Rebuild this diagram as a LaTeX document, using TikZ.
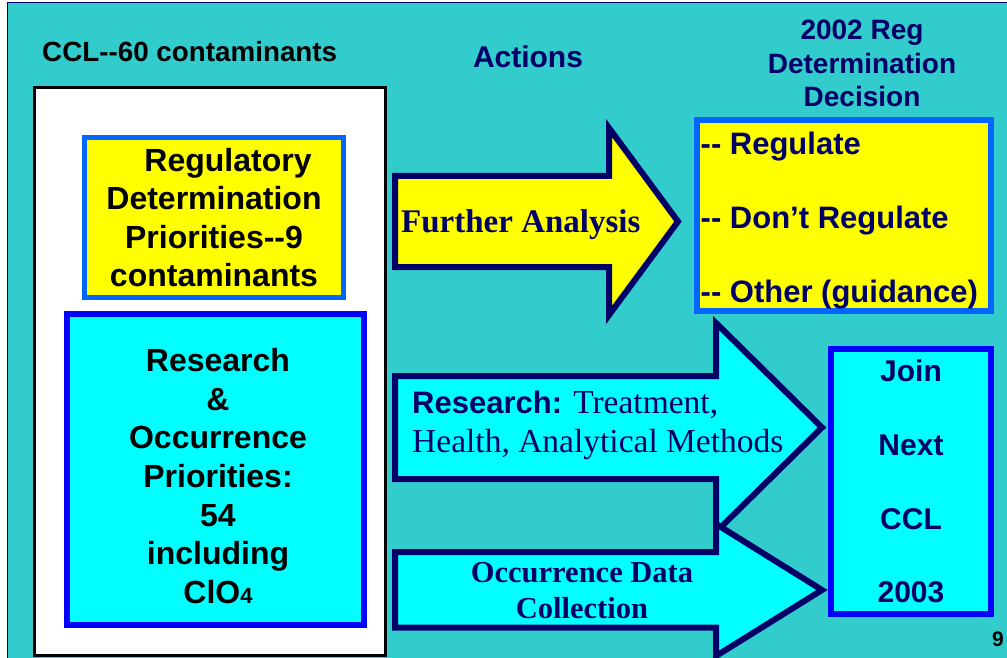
\documentclass[tikz,border=0pt]{standalone}
\usepackage{fontspec}
\setmainfont{Liberation Serif}[Ligatures=TeXOff]
\setsansfont{Liberation Sans}[Ligatures=TeXOff]
\usetikzlibrary{positioning}
\definecolor{slide}{HTML}{33CCCC}
\definecolor{navy}{HTML}{000066}
\definecolor{boxblue}{HTML}{0066FF}
\definecolor{deepblue}{HTML}{0000FF}
\definecolor{aqua}{HTML}{00FFFF}
\definecolor{lemon}{HTML}{FFFF00}
\tikzset{blockarrow/.style = {draw=navy, line width=6pt, line join=miter}}

\begin{document}
\begin{tikzpicture}[x=1pt, y=-1pt,
    sanstext/.style = {font=\sffamily\bfseries\fontsize{30}{38.6}\selectfont,
        align=center, inner sep=0pt},
    navytext/.style = {sanstext, text=navy},
    serifbold/.style = {font=\rmfamily\bfseries\fontsize{#1}{36.5}\selectfont,
        text=navy, align=center, inner sep=0pt},
    yellowbox/.style = {fill=lemon, draw=boxblue, inner sep=0pt},
    cyanbox/.style = {fill=aqua, draw=deepblue, line width=6pt, inner sep=0pt}]
    \useasboundingbox (0,0) rectangle (1007,658);
    \fill[white] (0,0) rectangle (1007,658);
    \filldraw[fill=slide, draw=navy, line width=1pt] (7.5,3) rectangle (1010,662);

    % left column
    \node[sanstext, font=\sffamily\bfseries\fontsize{27.8}{33}\selectfont,
        anchor=west] (ccltitle) at (42,52) {CCL--60 contaminants};
    \node[draw=black, fill=white, line width=3pt, minimum width=351pt,
        minimum height=568pt] (ccl) at (210,371.5) {};
    \node[yellowbox, sanstext, font=\sffamily\bfseries\fontsize{32}{38.6}\selectfont,
        line width=5pt, minimum width=259pt, minimum height=160pt]
        (regdet) at (214,217.5) {\hspace*{28pt}Regulatory\\Determination\\Priorities--9\\contaminants};
    \node[cyanbox, minimum width=297pt, minimum height=311pt] (resocc) at (215.5,469.5) {};
    \node[sanstext, font=\sffamily\bfseries\fontsize{32}{38.6}\selectfont] (resocctext) at (218,476)
        {Research\\\&\\Occurrence\\Priorities:\\54\\including\\ClO{\fontsize{22}{22}\selectfont 4}};

    % actions
    \node[navytext] (actions) at (528,57) {Actions};
    \draw[blockarrow, fill=lemon] (395,176) -- (609,176) -- (609,128) -- (678,221.5)
        -- (609,315) -- (609,267) -- (395,267) -- cycle;
    \node[serifbold=33, anchor=base west] (further) at (401,233) {Further Analysis};

    \draw[blockarrow, fill=aqua] (395,376) -- (716,376) -- (716,323) -- (822,427.5)
        -- (716,532) -- (716,479) -- (395,479) -- cycle;
    \node[font=\rmfamily\fontsize{33.5}{39}\selectfont, text=navy, align=left,
        inner sep=0pt, anchor=west] (research) at (412,425)
        {{\sffamily\bfseries\fontsize{31}{39}\selectfont Research:} Treatment,\\Health, Analytical Methods};

    \draw[blockarrow, fill=aqua] (395,552) -- (716,552) -- (716,524) -- (822,590)
        -- (716,656) -- (716,627.5) -- (395,627.5) -- cycle;
    \node[serifbold=30.5] (occdata) at (582,590.5) {Occurrence Data\\Collection};

    % decisions
    \node[navytext, font=\sffamily\bfseries\fontsize{28}{33.5}\selectfont]
        (decision) at (862,63.5) {2002 Reg\\Determination\\Decision};
    \node[yellowbox, line width=6pt, minimum width=294pt, minimum height=191pt]
        (decbox) at (844,215.5) {};
    \node[navytext, font=\sffamily\bfseries\fontsize{31}{33}\selectfont, anchor=base west]
        (regulate) at (700.5,154.5) {-- Regulate};
    \node[navytext, font=\sffamily\bfseries\fontsize{31}{33}\selectfont, anchor=base west]
        (dontreg) at (700.5,228.5) {-- Don’t Regulate};
    \node[navytext, font=\sffamily\bfseries\fontsize{31}{33}\selectfont, anchor=base west]
        (other) at (700.5,302) {-- Other (guidance)};

    \node[cyanbox, navytext, font=\sffamily\bfseries\fontsize{30}{73.7}\selectfont,
        minimum width=160pt, minimum height=265pt] (nextccl) at (911,481.5)
        {Join\\Next\\CCL\\2003};

    \node[sanstext, font=\sffamily\bfseries\fontsize{21}{24}\selectfont] (pagenum) at (998,639) {9};
\end{tikzpicture}
\end{document}
